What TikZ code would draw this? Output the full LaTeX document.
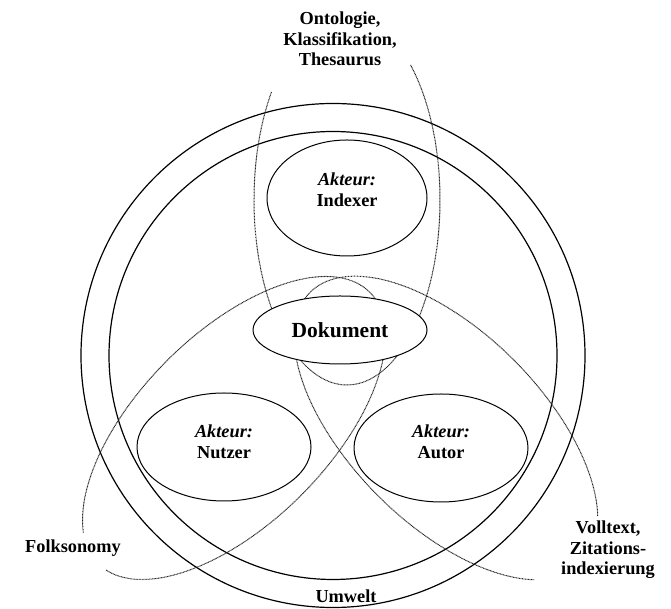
\documentclass[tikz,border=0pt]{standalone}
\usepackage{fontspec}
\setmainfont{Liberation Serif}
\usetikzlibrary{shapes.geometric}
\begin{document}
\begin{tikzpicture}[x=1pt,y=1pt,
  ring/.style={line width=1.2pt},
  actor/.style={draw, ellipse, line width=1pt, fill=white, inner sep=0pt, minimum width=174pt, minimum height=108pt},
  scheme/.style={line width=1pt, black!85, dash pattern=on 0.9pt off 0.6pt},
  lbl/.style={font=\fontsize{18.3}{20.5}\selectfont\bfseries, align=center, inner sep=0pt},
  akt/.style={font=\fontsize{18.3}{21}\selectfont\bfseries, align=center, inner sep=0pt}]
\useasboundingbox (0,0) rectangle (671,609);
\coordinate (c) at (333,253.5);
\draw[ring] (c) circle[radius=252];
\draw[ring] (c) circle[radius=224];
% Ontologie / Klassifikation / Thesaurus
\draw[scheme] (347,409) ++(144.3:93 and 185) arc[start angle=144.3, end angle=406.9, x radius=93, y radius=185];
% Folksonomy
\begin{scope}[shift={(234,181)}, rotate=45]
  \draw[scheme] (-174:192 and 95) arc[start angle=-174, end angle=160, x radius=192, y radius=95];
\end{scope}
% Volltext
\begin{scope}[shift={(446,181)}, rotate=-45]
  \draw[scheme] (28:192 and 96) arc[start angle=28, end angle=332, x radius=192, y radius=96];
\end{scope}
% actors and document
\node[actor, minimum width=160pt, minimum height=116pt] (indexer) at (347,411) {};
\node[actor] (nutzer) at (224,162) {};
\node[actor] (autor) at (441,161) {};
\node[actor, minimum width=174pt, minimum height=68pt, font=\fontsize{21.5}{24}\selectfont\bfseries] (dok) at (340,279) {Dokument};
\node[akt] (tindexer) at (347,419.7) {\textit{Akteur:}\\Indexer};
\node[akt] (tnutzer) at (224,167.5) {\textit{Akteur:}\\Nutzer};
\node[akt] (tautor) at (441,167.5) {\textit{Akteur:}\\Autor};
% labels
\node[lbl] (ont) at (340,570.2) {Ontologie,\\Klassifikation,\\Thesaurus};
\node[lbl] (voll) at (608,59.3) {Volltext,\\Zitations-\\indexierung};
\node[lbl, anchor=base] (folk) at (73,56) {Folksonomy};
\node[lbl, anchor=base] (umwelt) at (346,6) {Umwelt};
\end{tikzpicture}
\end{document}
